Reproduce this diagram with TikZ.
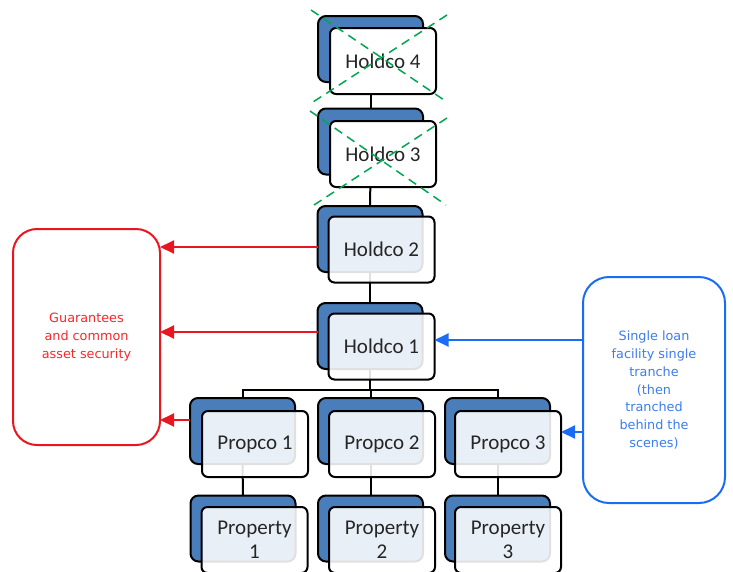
\documentclass[tikz,border=0pt]{standalone}
\usepackage{fontspec}
\setmainfont{Carlito}
\newfontfamily\notefont{DejaVu Sans}
\usetikzlibrary{arrows.meta}
\pgfdeclarelayer{bg}
\pgfsetlayers{bg,main}
\definecolor{boxblue}{RGB}{74,126,187}
\definecolor{boxtext}{RGB}{38,38,38}
\definecolor{guarred}{RGB}{232,22,30}
\definecolor{guartext}{RGB}{250,40,40}
\definecolor{loanblue}{RGB}{26,108,245}
\definecolor{loantext}{RGB}{60,125,240}
\definecolor{strike}{RGB}{0,166,81}
\tikzset{
  backbox/.style={draw=black, line width=2pt, fill=boxblue, rounded corners=8pt,
    minimum width=105pt, minimum height=66pt, inner sep=0pt, outer sep=0pt},
  frontbox/.style={draw=black, line width=2pt, fill=white, fill opacity=0.88,
    text opacity=1, rounded corners=6pt, minimum width=106pt, minimum height=66pt,
    inner sep=0pt, outer sep=0pt, align=center, text=boxtext,
    font=\fontsize{21}{24}\selectfont},
  crossedbox/.style={frontbox, fill opacity=1},
  link/.style={draw=black, line width=2pt},
  notebox/.style={line width=2pt, fill=white, inner sep=0pt, outer sep=0pt,
    align=center, font=\notefont\fontsize{12.8}{17.8}\selectfont},
  guarantee/.style={notebox, draw=guarred, text=guartext, rounded corners=24pt},
  facility/.style={notebox, draw=loanblue, text=loantext, rounded corners=26pt},
  guararrow/.style={draw=guarred, line width=2pt, -{Triangle[length=14pt,width=13pt]}},
  loanarrow/.style={draw=loanblue, line width=2pt, -{Triangle[length=14pt,width=13pt]}},
  strikeline/.style={draw=strike, line width=1.5pt, dash pattern=on 9pt off 6pt},
}
\begin{document}
\begin{tikzpicture}[x=1pt, y=-1pt]
\useasboundingbox (0,0) rectangle (733,571);

% holding companies
\node[backbox] (h4b) at (370.5,49) {};
\node[crossedbox] (h4) at (383,61) {Holdco 4};
\node[backbox] (h3b) at (370.5,141.5) {};
\node[crossedbox] (h3) at (383,154) {Holdco 3};
\node[backbox] (h2b) at (370,239) {};
\node[frontbox] (h2) at (381.5,249.5) {Holdco 2};
\node[backbox] (h1b) at (370,336) {};
\node[frontbox] (h1) at (381.5,346.5) {Holdco 1};

% property companies
\node[backbox] (p1b) at (242.5,431) {};
\node[frontbox] (p1) at (255,444) {Propco 1};
\node[backbox] (p2b) at (370.5,431) {};
\node[frontbox] (p2) at (382,444) {Propco 2};
\node[backbox] (p3b) at (497.5,431) {};
\node[frontbox] (p3) at (508,444) {Propco 3};

% properties
\node[backbox] (q1b) at (243,528.5) {};
\node[frontbox] (q1) at (254.5,540) {Property\\1};
\node[backbox] (q2b) at (370.5,528.5) {};
\node[frontbox] (q2) at (382,540) {Property\\2};
\node[backbox] (q3b) at (497.5,528.5) {};
\node[frontbox] (q3) at (508,540) {Property\\3};

% side notes
\node[guarantee, minimum width=147pt, minimum height=216pt] (guar) at (86.5,337)
  {Guarantees\\and common\\asset security};
\node[facility, minimum width=142pt, minimum height=226pt] (loan) at (654,390)
  {Single loan\\facility single\\tranche\\(then\\tranched\\behind the\\scenes)};

% ownership lines, behind the boxes
\begin{pgfonlayer}{bg}
  \coordinate (bus) at (0,390);
  \draw[link] (h4b.center) -- (h3b.center);
  \draw[link] (h3b.center) -- (h2b.center);
  \draw[link] (h2b.center) -- (h1b.center);
  \draw[link] (h1b.center) -- (h1b.center |- bus);
  \draw[link] (p1b.center) -- (p1b.center |- bus) -- (p3b.center |- bus) -- (p3b.center);
  \draw[link] (p2b.center) -- (p2b.center |- bus);
  \draw[link] (p1b.center) -- (q1b.center);
  \draw[link] (p2b.center) -- (q2b.center);
  \draw[link] (p3b.center) -- (q3b.center);
\end{pgfonlayer}

% guarantee arrows
\coordinate (g2) at ([yshift=-8pt]h2b.west);
\coordinate (g1) at ([yshift=4pt]h1b.west);
\coordinate (g0) at ([yshift=11pt]p1b.west);
\draw[guararrow] (g2) -- (guar.east |- g2);
\draw[guararrow] (g1) -- (guar.east |- g1);
\draw[guararrow] (g0) -- (guar.east |- g0);

% facility arrows
\coordinate (l1) at ([yshift=6.5pt]h1.east);
\coordinate (l0) at ([yshift=12pt]p3.east);
\draw[loanarrow] (loan.west |- l1) -- (l1);
\draw[loanarrow] (loan.west |- l0) -- (l0);

% struck-out holding companies
\draw[strikeline] (311,10) -- (447,102);
\draw[strikeline] (447,15) -- (313,102);
\draw[strikeline] (310,111) -- (446,205);
\draw[strikeline] (447,118) -- (314,205);
\end{tikzpicture}
\end{document}
